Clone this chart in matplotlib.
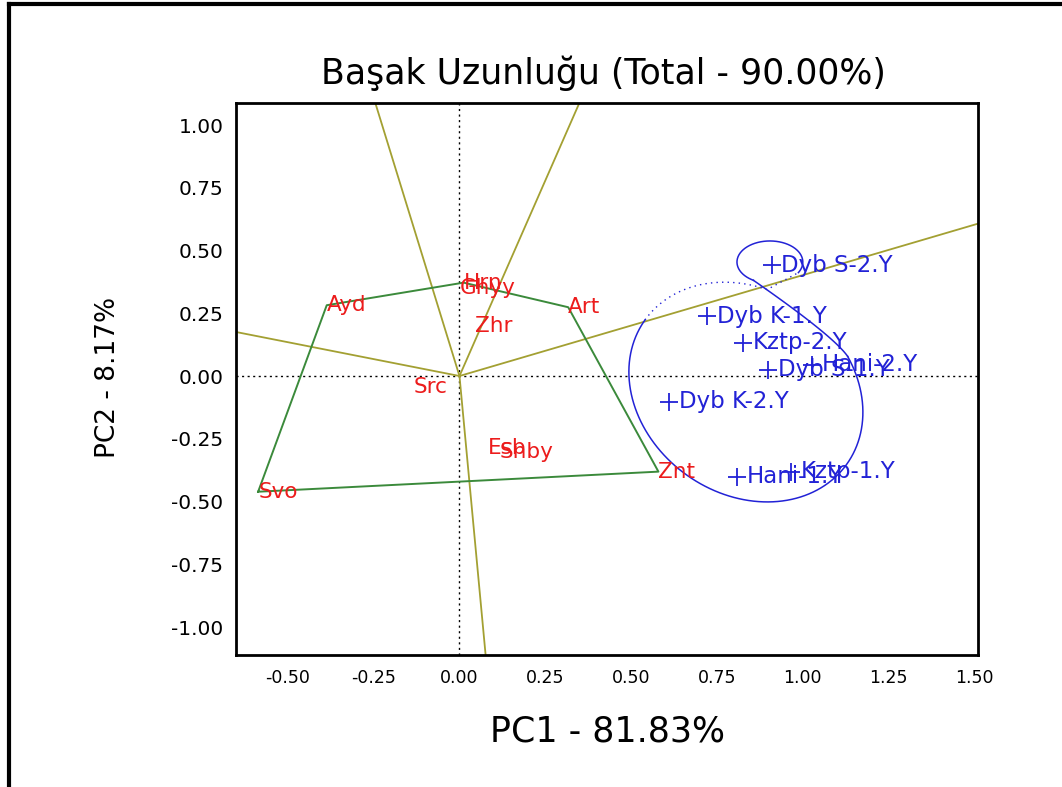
import numpy as np
import matplotlib.pyplot as plt
from matplotlib.lines import Line2D

plt.rcParams['font.family'] = ['DejaVu Sans']

# 基因型 (red labels)
gen_names = ["Ayd", "Hrn", "Ghyy", "Art", "Zhr", "Src", "Esb", "Snby", "Svo", "Znt"]
gen_pc1 = [-0.387, 0.012, 0.000, 0.317, 0.045, -0.135, 0.084, 0.118, -0.587, 0.580]
gen_pc2 = [0.282, 0.372, 0.352, 0.274, 0.199, -0.044, -0.288, -0.304, -0.461, -0.381]

# polygon vertices (which-won-where)
hull_order = ["Svo", "Ayd", "Hrn", "Art", "Znt"]

# 环境 (blue + markers)
env_names = ["Dyb S-2.Y", "Dyb K-1.Y", "Kztp-2.Y", "Dyb S-1.Y",
             "Hani-2.Y", "Dyb K-2.Y", "Hani-1.Y", "Kztp-1.Y"]
env_pc1 = [0.910, 0.722, 0.827, 0.900, 1.027, 0.612, 0.808, 0.966]
env_pc2 = [0.442, 0.239, 0.133, 0.024, 0.044, -0.102, -0.401, -0.381]

title = "Başak Uzunluğu (Total - 90.00%)"
xlabel = "PC1 - 81.83%"
ylabel = "PC2 - 8.17%"
xticks = [-0.50, -0.25, 0.00, 0.25, 0.50, 0.75, 1.00, 1.25, 1.50]
yticks = [-1.00, -0.75, -0.50, -0.25, 0.00, 0.25, 0.50, 0.75, 1.00]

# hand drawn outline around the environment group
ell_center = (0.835, -0.064)
ell_u = (0.294, -0.2875)
ell_v = (-0.173, -0.330)
loop_center = (0.905, 0.454)
loop_r = (0.096, 0.084)

RAY_COLOR = "#a3a032"
POLY_COLOR = "#3b8a3b"
RED = "#ec1c1c"
BLUE = "#2222d6"


def ellipse_pts(t_deg):
    t = np.radians(t_deg)
    x = ell_center[0] + ell_u[0] * np.cos(t) + ell_v[0] * np.sin(t)
    y = ell_center[1] + ell_u[1] * np.cos(t) + ell_v[1] * np.sin(t)
    return x, y


def loop_pts(phi_deg):
    p = np.radians(phi_deg)
    return loop_center[0] + loop_r[0] * np.cos(p), loop_center[1] + loop_r[1] * np.sin(p)


fig = plt.figure(figsize=(10.62, 7.87), dpi=100)
ax = fig.add_axes([0.2222, 0.1677, 0.6987, 0.7014])
ax.set_xlim(-0.6516, 1.5117)
ax.set_ylim(-1.1116, 1.0876)

# reference lines through origin
ax.axhline(0, color="black", lw=1.0, ls=(0, (1.5, 2.5)), zorder=1)
ax.axvline(0, color="black", lw=1.0, ls=(0, (1.5, 2.5)), zorder=1)

gx = dict(zip(gen_names, gen_pc1))
gy = dict(zip(gen_names, gen_pc2))
hull = np.array([[gx[n], gy[n]] for n in hull_order])

# rays perpendicular to each polygon side
for i in range(len(hull)):
    p = hull[i]
    q = hull[(i + 1) % len(hull)]
    d = q - p
    n = np.array([-d[1], d[0]])
    if np.dot(n, (p + q) / 2) < 0:
        n = -n
    n = n / np.linalg.norm(n) * 5.0
    ax.plot([0, n[0]], [0, n[1]], color=RAY_COLOR, lw=1.3, zorder=2)

# polygon
closed = np.vstack([hull, hull[:1]])
ax.plot(closed[:, 0], closed[:, 1], color=POLY_COLOR, lw=1.4, zorder=3)

# genotype labels
for name, x, y in zip(gen_names, gen_pc1, gen_pc2):
    ax.text(x, y, name, color=RED, fontsize=15.5, ha="left", va="center", zorder=5)

# environment markers + labels
ax.plot(env_pc1, env_pc2, ls="none", marker="+", ms=13, mew=1.3, color=BLUE, zorder=4)
for name, x, y in zip(env_names, env_pc1, env_pc2):
    ax.annotate(name, (x, y), xytext=(7, 0), textcoords="offset points",
                color=BLUE, fontsize=16.5, ha="left", va="center", zorder=5)

# outline: big ellipse (solid), top part dotted, small loop + connector
ex, ey = ellipse_pts(np.linspace(-60, 180, 200))
ax.plot(ex, ey, color=BLUE, lw=1.1, zorder=3)
dx, dy = ellipse_pts(np.linspace(180, 250, 60))
lx_end, ly_end = loop_pts(-30)
ax.plot(np.append(dx, lx_end), np.append(dy, ly_end), color=BLUE, lw=1.0,
        ls=(0, (1, 3)), zorder=3)
lx, ly = loop_pts(np.linspace(-30, 240, 150))
ax.plot(lx, ly, color=BLUE, lw=1.1, zorder=3)
p0 = np.array(loop_pts(240))
p2 = np.array(ellipse_pts(-60))
ctrl = np.array([1.09, 0.16])
s = np.linspace(0, 1, 50)[:, None]
bez = (1 - s) ** 2 * p0 + 2 * (1 - s) * s * ctrl + s ** 2 * p2
ax.plot(bez[:, 0], bez[:, 1], color=BLUE, lw=1.1, zorder=3)

# axes styling
ax.set_xticks(xticks)
ax.set_xticklabels([f"{v:.2f}" for v in xticks], fontsize=12.5)
ax.set_yticks(yticks)
ax.set_yticklabels([f"{v:.2f}" for v in yticks], fontsize=14.5)
ax.tick_params(length=0, pad=9)
ax.tick_params(axis="x", pad=10)
for sp in ax.spines.values():
    sp.set_linewidth(2.0)

fig.text(603 / 1062, 1 - 73 / 787, title, fontsize=25, ha="center", va="center")
fig.text(608 / 1062, 1 - 732 / 787, xlabel, fontsize=25, ha="center", va="center")
fig.text(108 / 1062, 1 - 377 / 787, ylabel, fontsize=19, ha="center", va="center",
         rotation=90)

# outer frame (top and left edges)
fig.add_artist(Line2D([8.5 / 1062, 8.5 / 1062], [0, 1 - 4 / 787], color="black", lw=3))
fig.add_artist(Line2D([8.5 / 1062, 1], [1 - 4 / 787, 1 - 4 / 787], color="black", lw=3))

fig.savefig("out.png", dpi=100)
